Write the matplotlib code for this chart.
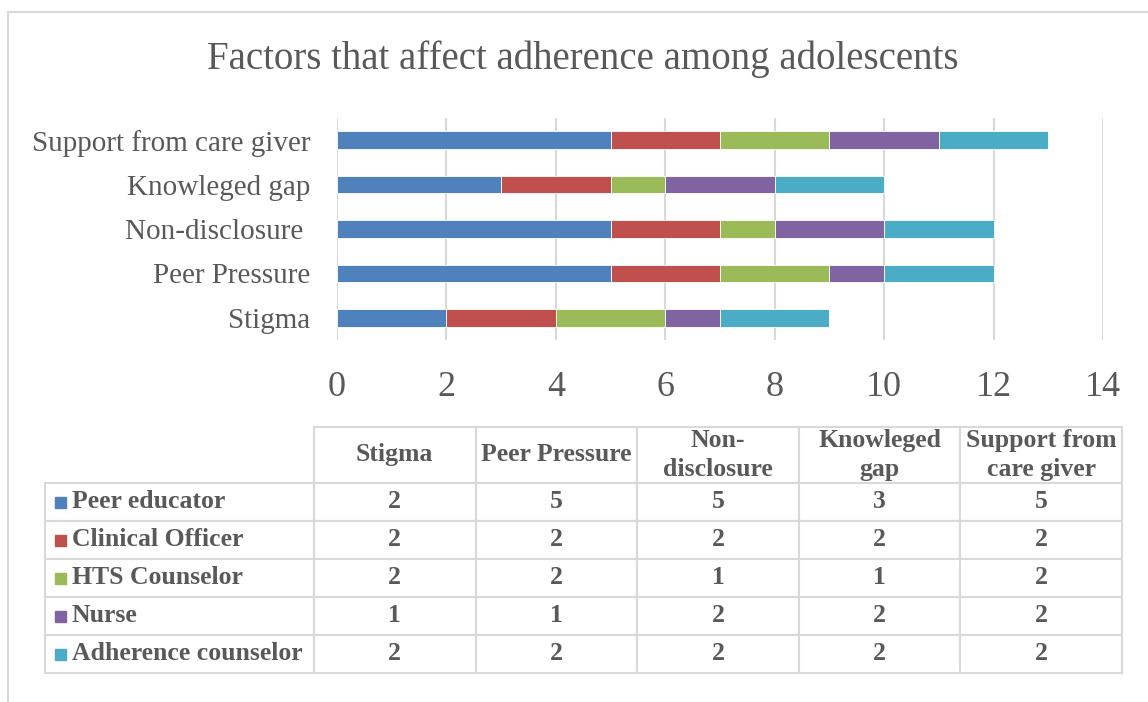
import matplotlib.pyplot as plt
from matplotlib.patches import Rectangle
from matplotlib.table import Table

# data
factors = ['Stigma', 'Peer Pressure', 'Non-disclosure ', 'Knowleged gap', 'Support from care giver']
table_headers = ['Stigma', 'Peer Pressure', 'Non-\ndisclosure', 'Knowleged\ngap', 'Support from\ncare giver']
roles = ['Peer educator', 'Clinical Officer', 'HTS Counselor', 'Nurse', 'Adherence counselor']
peer_educator = [2, 5, 5, 3, 5]
clinical_officer = [2, 2, 2, 2, 2]
hts_counselor = [2, 2, 1, 1, 2]
nurse = [1, 1, 2, 2, 2]
adherence_counselor = [2, 2, 2, 2, 2]
series = [peer_educator, clinical_officer, hts_counselor, nurse, adherence_counselor]
colors = ['#4F81BD', '#C0504D', '#9BBB59', '#8064A2', '#4BACC6']
x_ticks = [0, 2, 4, 6, 8, 10, 12, 14]

text_col = '#595959'
line_col = '#D9D9D9'
plt.rcParams['font.family'] = ['Liberation Serif', 'DejaVu Serif']

W, H = 1148, 702
fig = plt.figure(figsize=(W / 100, H / 100), dpi=100)

# chart area border (left and top only visible)
fig.patches.append(Rectangle((8 / W, -0.1), 1.2, 1.1 - 12 / H, transform=fig.transFigure,
                             fill=False, edgecolor=line_col, linewidth=1.5))

fig.text(583 / W, 1 - 59 / H, 'Factors that affect adherence among adolescents',
         ha='center', va='center', fontsize=28, color=text_col)

# stacked bars
ax = fig.add_axes([337 / W, 1 - 340 / H, (1103 - 337) / W, (340 - 118) / H])
ypos = list(range(len(factors)))
left = [0] * len(factors)
for vals, c, name in zip(series, colors, roles):
    ax.barh(ypos, vals, left=left, height=0.4, color=c, edgecolor='white',
            linewidth=0.6, label=name)
    left = [l + v for l, v in zip(left, vals)]

ax.set_xlim(0, 14)
ax.set_ylim(-0.5, len(factors) - 0.5)
ax.set_xticks(x_ticks)
ax.set_yticks(ypos)
ax.set_yticklabels(factors)
ax.tick_params(axis='x', length=0, pad=22, labelsize=26, labelcolor=text_col)
ax.tick_params(axis='y', length=0, pad=19, labelsize=21, labelcolor=text_col)
ax.xaxis.grid(True, color=line_col, linewidth=1.5)
ax.set_axisbelow(True)
for s in ax.spines.values():
    s.set_visible(False)

# data table
tax = fig.add_axes([45 / W, 1 - 673 / H, (1122 - 45) / W, (673 - 427) / H])
tax.axis('off')
tbl = Table(tax, bbox=[0, 0, 1, 1])
label_w, col_w = 269, 161.6
head_h, row_h = 56, 38
corner = tbl.add_cell(0, 0, label_w, head_h, text='')
corner.visible_edges = 'open'
for j, h in enumerate(table_headers):
    tbl.add_cell(0, j + 1, col_w, head_h, text=h, loc='center')
for i, (name, vals) in enumerate(zip(roles, series)):
    tbl.add_cell(i + 1, 0, label_w, row_h, text=name, loc='left')
    for j, v in enumerate(vals):
        tbl.add_cell(i + 1, j + 1, col_w, row_h, text=str(v), loc='center')
tbl.auto_set_font_size(False)
tbl.set_fontsize(18.5)
for (r, c), cell in tbl.get_celld().items():
    cell.set_edgecolor(line_col)
    cell.set_linewidth(1.5)
    cell.get_text().set(fontweight='bold', color=text_col,
                        linespacing=1.3 if r == 0 else 1.1)
tax.add_table(tbl)

# small colour keys in the row labels
fig.canvas.draw()
kw, kh = 11 / (1122 - 45), 11 / (673 - 427)
for i, c in enumerate(colors):
    cell = tbl[i + 1, 0]
    yc = cell.get_y() + cell.get_height() / 2
    tax.add_patch(Rectangle((cell.get_x() + 10 / (1122 - 45), yc - kh / 2), kw, kh,
                            transform=tax.transAxes, color=c, clip_on=False))

fig.savefig('out.png', dpi=100)
